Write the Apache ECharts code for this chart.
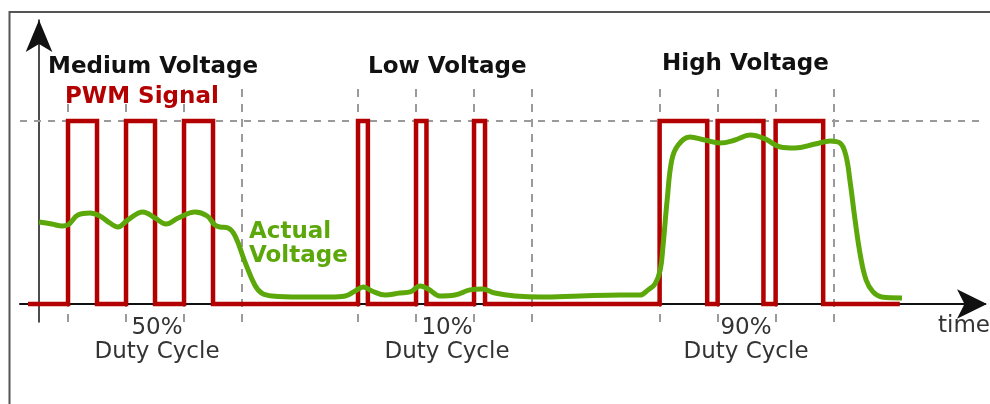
<!DOCTYPE html>
<html>
<head>
<meta charset="utf-8">
<script src="https://cdn.jsdelivr.net/npm/echarts@6/dist/echarts.min.js"></script>
<style>html,body{margin:0;padding:0;background:#fff}#c{width:990px;height:404px}</style>
</head>
<body>
<div id="c"></div>
<script>
// time units: one PWM period = 10 units
const pwmTimes  = [-1.9, 5, 10, 15, 20, 25, 30, 55, 56.7, 65, 66.8, 75, 76.9, 107, 115.2, 117, 124.9, 127, 135.2, 148.4];
const pwmLevels = [0,    1, 0,  1,  0,  1,  0,  1,  0,    1,  0,    1,  0,    1,   0,     1,   0,     1,   0,     0];

const voltTimes = [0, 2.2, 4, 5, 6.7, 8.8, 10.5, 12.2, 13.6, 15.3, 17.9, 20, 21.9, 24, 26.9, 29, 30.3, 31.2, 32.6, 33.8, 35.5, 37.2, 38.4, 40.2, 45, 50.2, 52.8, 54.5, 55.9, 57.4, 59.7, 62.2, 64, 65.7, 67.1, 69.1, 71.7, 74.3, 76.4, 78.6, 82.1, 86.4, 93.3, 100.2, 103.6, 105, 106.2, 107.1, 107.6, 108.3, 109.1, 110.2, 112.2, 114.8, 117.4, 120, 122.6, 125.2, 127.8, 130.3, 133.8, 136.4, 138.1, 139.1, 139.8, 140.7, 141.6, 142.6, 143.8, 145.3, 148.8];
const voltValues = [0.448, 0.437, 0.426, 0.432, 0.486, 0.497, 0.481, 0.443, 0.421, 0.459, 0.503, 0.470, 0.437, 0.470, 0.503, 0.481, 0.432, 0.421, 0.415, 0.372, 0.230, 0.104, 0.060, 0.044, 0.038, 0.038, 0.044, 0.071, 0.093, 0.071, 0.049, 0.060, 0.066, 0.098, 0.082, 0.044, 0.049, 0.077, 0.082, 0.060, 0.044, 0.038, 0.044, 0.049, 0.049, 0.077, 0.109, 0.186, 0.322, 0.568, 0.787, 0.869, 0.913, 0.896, 0.880, 0.896, 0.923, 0.902, 0.858, 0.852, 0.874, 0.891, 0.880, 0.814, 0.678, 0.459, 0.268, 0.131, 0.066, 0.038, 0.033];

const periodMarks = [5, 15, 25, 35, 55, 65, 75, 85, 107, 117, 127, 137];
const highLevel = 1;
const groupTitles = ['Medium Voltage', 'Low Voltage', 'High Voltage'];
const dutyLabels = ['50%', '10%', '90%'];

const pwmData = [];
for (let i = 0; i < pwmTimes.length - 1; i++) {
  pwmData.push([pwmTimes[i], pwmLevels[i]]);
  pwmData.push([pwmTimes[i + 1], pwmLevels[i]]);
}
const voltData = voltTimes.map((t, i) => [t, voltValues[i]]);

const XMIN = -3.28, XMAX = 163.1;
const YMIN = -0.0984, YMAX = 1.552;
const markData = periodMarks.map(t => [{coord: [t, YMIN]}, {coord: [t, 1.175]}]);

const FONT = 'DejaVu Sans';
const RED = '#b30000', GREEN = '#5ca80b';

const chart = echarts.init(document.getElementById('c'), null, {renderer: 'canvas'});
const txt = (x, y, text, o) => Object.assign({
  type: 'text', x: x, y: y, z: 100,
  style: Object.assign({text: text, fontFamily: FONT, fontSize: 23, fill: '#111', verticalAlign: 'middle', align: 'left'}, o || {})
});

chart.setOption({
  animation: false,
  grid: {left: 20, right: 5, top: 20, bottom: 82},
  xAxis: {
    type: 'value', min: XMIN, max: XMAX,
    axisLine: {onZero: true, symbol: ['none', 'arrow'], symbolSize: [22, 30], symbolOffset: [0, 2], lineStyle: {color: '#111', width: 2}},
    axisTick: {show: false}, axisLabel: {show: false}, splitLine: {show: false}
  },
  yAxis: {
    type: 'value', min: YMIN, max: YMAX,
    axisLine: {show: true, onZero: true, symbol: ['none', 'arrow'], symbolSize: [20, 32], lineStyle: {color: '#111', width: 1.5}},
    axisTick: {show: false}, axisLabel: {show: false}, splitLine: {show: false}
  },
  series: [
    {
      type: 'line', z: 1, silent: true,
      data: [[XMIN, highLevel], [XMAX, highLevel]],
      showSymbol: false,
      lineStyle: {color: '#9a9a9a', width: 2, type: [7, 7]},
      markLine: {
        z: 1, silent: true, symbol: 'none', label: {show: false},
        lineStyle: {color: '#9a9a9a', width: 2, type: [8, 7]},
        data: markData
      }
    },
    {
      type: 'line', z: 3, data: pwmData, showSymbol: false, clip: false,
      lineStyle: {color: RED, width: 4.5, join: 'miter'}
    },
    {
      type: 'line', z: 4, data: voltData, showSymbol: false, smooth: 0.4, clip: false,
      lineStyle: {color: GREEN, width: 5}
    }
  ],
  graphic: [
    {type: 'polyline', z: 100, shape: {points: [[9.5, 404], [9.5, 12], [990, 12]]}, style: {stroke: '#555', lineWidth: 2, fill: null}},
    txt(48, 67, groupTitles[0], {fontWeight: 'bold'}),
    txt(65, 97, 'PWM Signal', {fontWeight: 'bold', fill: RED}),
    txt(368, 67, groupTitles[1], {fontWeight: 'bold'}),
    txt(662, 64, groupTitles[2], {fontWeight: 'bold'}),
    txt(249, 232, 'Actual', {fontWeight: 'bold', fill: GREEN}),
    txt(249, 256, 'Voltage', {fontWeight: 'bold', fill: GREEN}),
    txt(157, 328, dutyLabels[0], {fill: '#333', align: 'center'}),
    txt(157, 352, 'Duty Cycle', {fill: '#333', align: 'center'}),
    txt(447, 328, dutyLabels[1], {fill: '#333', align: 'center'}),
    txt(447, 352, 'Duty Cycle', {fill: '#333', align: 'center'}),
    txt(746, 328, dutyLabels[2], {fill: '#333', align: 'center'}),
    txt(746, 352, 'Duty Cycle', {fill: '#333', align: 'center'}),
    txt(938, 326, 'time', {fill: '#333'})
  ]
});
</script>
</body>
</html>
